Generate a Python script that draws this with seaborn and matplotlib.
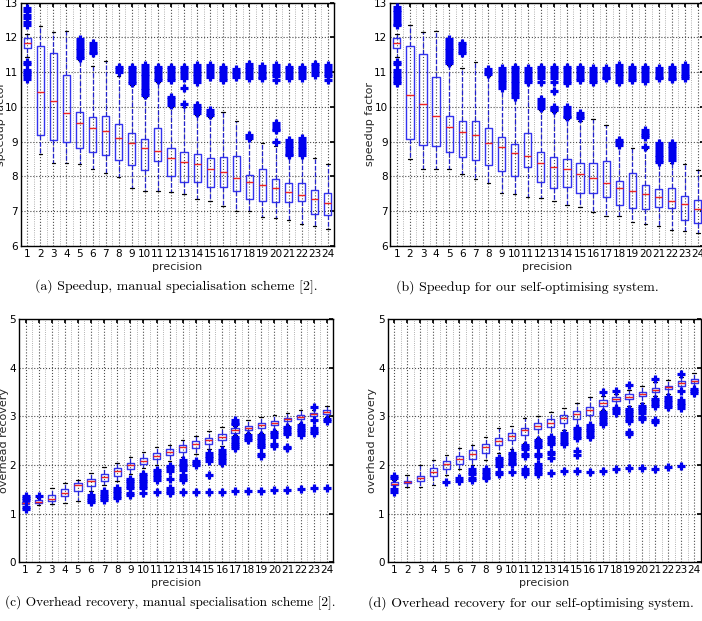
import numpy as np
import pandas as pd
import matplotlib
matplotlib.use("Agg")
import matplotlib.pyplot as plt
import seaborn as sns
from matplotlib.ticker import FixedLocator

# ---------------- data ----------------
precision = [str(i) for i in range(1, 25)]

# (a) speedup, manual specialisation scheme
a_lo = [11.45, 8.65, 8.38, 8.38, 8.36, 8.22, 8.09, 7.98, 7.68, 7.58, 7.57, 7.55, 7.49, 7.34, 7.29, 7.14, 7.02, 7.02, 6.84, 6.80, 6.75, 6.63, 6.58, 6.48]
a_q1 = [11.71, 9.18, 9.04, 8.99, 8.83, 8.70, 8.61, 8.48, 8.32, 8.18, 8.45, 8.01, 7.84, 7.85, 7.69, 7.69, 7.58, 7.34, 7.29, 7.26, 7.28, 7.30, 6.92, 6.88]
a_med = [11.85, 10.44, 10.18, 9.84, 9.55, 9.40, 9.32, 9.11, 8.97, 8.81, 8.73, 8.54, 8.41, 8.36, 8.22, 8.12, 7.97, 7.83, 7.76, 7.66, 7.56, 7.47, 7.36, 7.25]
a_q3 = [11.99, 11.76, 11.54, 10.91, 9.85, 9.72, 9.73, 9.50, 9.26, 9.07, 9.39, 8.83, 8.71, 8.64, 8.52, 8.55, 8.58, 8.04, 8.21, 7.92, 7.81, 7.82, 7.61, 7.53]
a_hi = [12.10, 12.32, 12.15, 12.19, 11.35, 11.18, 11.32, 10.90, 10.62, 10.28, 10.72, 10.00, 10.00, 9.78, 9.72, 9.85, 9.61, 9.05, 8.97, 8.88, 8.58, 8.58, 8.52, 8.35]
a_out = [
    [12.84, 12.75, 12.65, 12.55, 12.45, 12.36, 11.30, 11.25, 11.06, 11.00, 10.94, 10.88, 10.80],
    [], [], [],
    [11.95, 11.87, 11.79, 11.71, 11.63, 11.55, 11.47, 11.40],
    [11.83, 11.75, 11.67, 11.58, 11.54],
    [],
    [11.16, 11.08, 11.00],
    [11.16, 11.08, 11.00, 10.92, 10.84, 10.76, 10.68],
    [11.20, 11.12, 11.04, 10.96, 10.88, 10.80, 10.72, 10.64, 10.56, 10.48, 10.40, 10.34],
    [11.16, 11.08, 11.00, 10.92, 10.84, 10.78],
    [11.16, 11.08, 11.00, 10.92, 10.84, 10.78, 10.30, 10.22, 10.14, 10.06],
    [11.16, 11.08, 11.00, 10.92, 10.82, 10.54, 10.08],
    [11.20, 11.12, 11.04, 10.96, 10.88, 10.80, 10.73, 10.06, 9.98, 9.90, 9.84],
    [11.20, 11.12, 11.04, 10.96, 10.87, 9.91, 9.84, 9.77],
    [11.16, 11.08, 11.00, 10.92, 10.84, 10.78],
    [11.10, 11.02, 10.94, 10.87],
    [11.25, 11.16, 11.08, 11.00, 10.92, 10.82, 9.19, 9.10],
    [11.18, 11.10, 11.02, 10.94, 10.86, 10.82],
    [11.20, 11.12, 11.04, 10.96, 10.88, 10.78, 9.53, 9.45, 9.38, 9.34, 8.98],
    [11.16, 11.08, 11.00, 10.92, 10.82, 9.05, 8.97, 8.89, 8.81, 8.73, 8.66, 8.62],
    [11.16, 11.08, 11.00, 10.92, 10.82, 9.10, 9.02, 8.94, 8.86, 8.78, 8.70, 8.62],
    [11.25, 11.17, 11.09, 11.00, 10.92],
    [11.20, 11.12, 11.04, 10.96, 10.88, 10.78],
]

# (b) speedup, self-optimising system
b_lo = [11.45, 8.50, 8.22, 8.22, 8.22, 8.07, 7.93, 7.81, 7.53, 7.49, 7.40, 7.38, 7.30, 7.18, 7.11, 6.99, 6.85, 6.86, 6.68, 6.62, 6.57, 6.46, 6.43, 6.37]
b_q1 = [11.69, 9.07, 8.91, 8.88, 8.70, 8.56, 8.47, 8.34, 8.15, 8.01, 8.28, 7.83, 7.68, 7.69, 7.52, 7.52, 7.41, 7.18, 7.10, 7.07, 7.11, 7.09, 6.75, 6.67]
b_med = [11.84, 10.35, 10.08, 9.73, 9.42, 9.27, 9.19, 8.97, 8.85, 8.67, 8.58, 8.40, 8.28, 8.21, 8.06, 7.96, 7.81, 7.67, 7.59, 7.49, 7.40, 7.30, 7.20, 7.07]
b_q3 = [11.99, 11.75, 11.51, 10.85, 9.73, 9.61, 9.61, 9.39, 9.15, 8.93, 9.26, 8.70, 8.57, 8.49, 8.38, 8.39, 8.44, 7.87, 8.09, 7.76, 7.63, 7.66, 7.45, 7.31]
b_hi = [12.10, 12.35, 12.15, 12.20, 11.22, 11.12, 11.28, 10.90, 10.52, 10.25, 10.70, 9.90, 9.85, 9.65, 9.60, 9.66, 9.48, 8.88, 8.83, 8.80, 8.40, 8.40, 8.36, 8.19]
b_out = [
    [12.88, 12.80, 12.72, 12.64, 12.56, 12.48, 12.40, 12.36, 11.30, 11.25, 11.06, 10.98, 10.90, 10.82, 10.74, 10.68],
    [], [], [],
    [11.95, 11.87, 11.79, 11.71, 11.63, 11.55, 11.47, 11.39, 11.31, 11.26],
    [11.85, 11.77, 11.69, 11.61, 11.54],
    [],
    [11.08, 11.00, 10.95],
    [11.11, 11.03, 10.95, 10.87, 10.79, 10.71, 10.63, 10.56],
    [11.16, 11.08, 11.00, 10.92, 10.84, 10.76, 10.68, 10.60, 10.52, 10.44, 10.36, 10.30],
    [11.11, 11.03, 10.95, 10.87, 10.79, 10.73],
    [11.16, 11.08, 11.00, 10.92, 10.84, 10.73, 10.22, 10.14, 10.06, 9.96],
    [11.16, 11.08, 11.00, 10.92, 10.84, 10.73, 10.46, 10.00, 9.95, 9.91],
    [11.16, 11.08, 11.00, 10.92, 10.84, 10.76, 10.68, 9.99, 9.91, 9.83, 9.75, 9.72],
    [11.16, 11.08, 11.00, 10.92, 10.84, 10.78, 9.82, 9.74, 9.67],
    [11.11, 11.03, 10.95, 10.87, 10.79, 10.73],
    [11.11, 11.03, 10.95, 10.87, 10.82],
    [11.20, 11.12, 11.04, 10.96, 10.88, 10.80, 10.73, 9.05, 8.98, 8.91],
    [11.16, 11.08, 11.00, 10.92, 10.84, 10.78],
    [11.16, 11.08, 11.00, 10.92, 10.84, 10.76, 9.34, 9.26, 9.18, 9.15, 8.86],
    [11.11, 11.03, 10.95, 10.87, 10.82, 8.95, 8.87, 8.79, 8.71, 8.63, 8.55, 8.47, 8.43],
    [11.16, 11.08, 11.00, 10.92, 10.84, 10.80, 8.97, 8.89, 8.81, 8.73, 8.65, 8.57, 8.47],
    [11.20, 11.12, 11.04, 10.96, 10.88, 10.82],
    [],
]

# (c) overhead recovery, manual specialisation scheme
c_lo = [1.16, 1.17, 1.19, 1.21, 1.25, 1.47, 1.58, 1.68, 1.82, 1.93, 2.00, 2.08, 2.17, 2.22, 2.32, 2.40, 2.62, 2.66, 2.66, 2.72, 2.82, 2.86, 2.92, 2.98]
c_q1 = [1.19, 1.21, 1.26, 1.36, 1.46, 1.57, 1.67, 1.78, 1.91, 2.02, 2.12, 2.20, 2.27, 2.34, 2.44, 2.51, 2.66, 2.72, 2.76, 2.82, 2.90, 2.95, 3.00, 3.05]
c_med = [1.21, 1.245, 1.31, 1.43, 1.58, 1.67, 1.76, 1.88, 2.00, 2.09, 2.19, 2.27, 2.36, 2.43, 2.51, 2.58, 2.71, 2.77, 2.82, 2.86, 2.94, 2.99, 3.04, 3.09]
c_q3 = [1.245, 1.28, 1.38, 1.50, 1.62, 1.72, 1.81, 1.94, 2.04, 2.15, 2.24, 2.32, 2.42, 2.49, 2.56, 2.63, 2.75, 2.80, 2.86, 2.90, 2.97, 3.02, 3.07, 3.12]
c_hi = [1.28, 1.33, 1.52, 1.62, 1.70, 1.83, 1.95, 2.04, 2.17, 2.27, 2.37, 2.42, 2.52, 2.60, 2.69, 2.78, 2.81, 2.92, 2.99, 3.02, 3.07, 3.12, 3.12, 3.21]
c_out = [
    [1.36, 1.32, 1.29, 1.13, 1.10],
    [1.37],
    [], [], [],
    [1.38, 1.33, 1.28, 1.24],
    [1.46, 1.41, 1.36, 1.32, 1.28],
    [1.52, 1.47, 1.42, 1.37, 1.33],
    [1.72, 1.67, 1.62, 1.57, 1.52, 1.42, 1.38],
    [1.82, 1.77, 1.72, 1.67, 1.62, 1.57, 1.52, 1.42],
    [1.90, 1.85, 1.80, 1.76, 1.70, 1.45],
    [1.98, 1.93, 1.88, 1.72, 1.52, 1.47, 1.42],
    [2.10, 2.05, 2.00, 1.95, 1.89, 1.79, 1.74, 1.69, 1.44],
    [2.09, 2.04, 1.99, 1.45],
    [2.24, 2.19, 2.14, 2.09, 1.79, 1.45],
    [2.30, 2.25, 2.20, 2.15, 2.10, 2.05, 1.45],
    [2.92, 2.87, 2.84, 2.58, 2.53, 2.48, 2.43, 2.38, 2.34, 1.46],
    [2.61, 2.56, 2.51, 1.46],
    [2.61, 2.56, 2.51, 2.46, 2.41, 2.36, 2.22, 2.18, 1.47],
    [2.68, 2.63, 2.58, 2.43, 2.40, 1.48],
    [2.78, 2.73, 2.68, 2.63, 2.37, 2.34, 1.48],
    [2.82, 2.77, 2.72, 2.67, 2.62, 1.50],
    [3.19, 2.92, 2.75, 2.70, 2.65, 1.52],
    [2.95, 2.91, 1.53],
]

# (d) overhead recovery, self-optimising system
d_lo = [1.53, 1.55, 1.55, 1.59, 1.80, 1.92, 2.00, 2.10, 2.25, 2.32, 2.45, 2.55, 2.60, 2.72, 2.78, 2.85, 3.12, 3.20, 3.22, 3.28, 3.42, 3.45, 3.52, 3.58]
d_q1 = [1.58, 1.62, 1.67, 1.78, 1.92, 2.02, 2.13, 2.24, 2.42, 2.51, 2.62, 2.74, 2.78, 2.87, 2.95, 3.03, 3.22, 3.31, 3.35, 3.41, 3.50, 3.56, 3.63, 3.69]
d_med = [1.61, 1.66, 1.73, 1.86, 2.02, 2.13, 2.23, 2.37, 2.49, 2.60, 2.71, 2.81, 2.87, 2.97, 3.05, 3.14, 3.27, 3.35, 3.39, 3.46, 3.54, 3.61, 3.68, 3.73]
d_q3 = [1.65, 1.68, 1.78, 1.93, 2.08, 2.18, 2.30, 2.44, 2.56, 2.66, 2.77, 2.86, 2.95, 3.03, 3.10, 3.19, 3.33, 3.39, 3.45, 3.51, 3.58, 3.63, 3.72, 3.77]
d_hi = [1.70, 1.80, 2.00, 2.11, 2.21, 2.35, 2.42, 2.57, 2.77, 2.80, 2.97, 3.01, 3.09, 3.17, 3.27, 3.39, 3.42, 3.46, 3.55, 3.63, 3.70, 3.74, 3.80, 3.89]
d_out = [
    [1.78, 1.74, 1.50, 1.44],
    [], [], [],
    [1.66],
    [1.74, 1.67],
    [1.91, 1.86, 1.81, 1.74, 1.70],
    [1.91, 1.86, 1.81, 1.76, 1.74],
    [2.15, 2.10, 2.05, 1.98, 1.86, 1.81],
    [2.25, 2.20, 2.15, 2.10, 2.05, 2.01, 1.85],
    [2.42, 2.37, 2.32, 2.22, 2.18, 1.91, 1.86, 1.81],
    [2.52, 2.47, 2.42, 2.37, 2.22, 2.18, 2.01, 1.96, 1.91, 1.86, 1.81],
    [2.58, 2.53, 2.48, 2.43, 2.27, 2.22, 2.15, 1.84],
    [2.65, 2.60, 2.54, 2.48, 2.43, 1.88],
    [2.76, 2.71, 2.65, 2.60, 2.55, 2.29, 2.21, 1.88],
    [2.82, 2.77, 2.72, 2.67, 2.62, 2.57, 1.86],
    [3.50, 3.09, 3.04, 2.99, 2.94, 2.89, 2.84, 1.88],
    [3.53, 3.17, 3.12, 3.07, 1.91],
    [3.65, 3.16, 3.11, 3.06, 3.01, 2.95, 2.90, 2.68, 2.63, 1.93],
    [3.22, 3.17, 3.12, 3.07, 2.99, 2.95, 1.93],
    [3.76, 3.36, 3.31, 3.26, 3.22, 2.92, 2.88, 1.92],
    [3.39, 3.34, 3.29, 3.24, 3.19, 1.95],
    [3.87, 3.53, 3.33, 3.28, 3.23, 3.18, 1.97],
    [3.56, 3.52, 3.48],
]

captions = [
    "(a) Speedup, manual specialisation scheme [2].",
    "(b) Speedup for our self-optimising system.",
    "(c) Overhead recovery, manual specialisation scheme [2].",
    "(d) Overhead recovery for our self-optimising system.",
]

# ---------------- figure ----------------
sns.set_theme(style="white")
plt.rcParams["font.family"] = ["DejaVu Sans"]

W, H = 702, 621
fig = plt.figure(figsize=(W / 100, H / 100), dpi=100)


def make_axes(x0, x1, ytop, ybot):
    return fig.add_axes([x0 / W, 1 - ybot / H, (x1 - x0) / W, (ybot - ytop) / H])


def panel(ax, lo, q1, med, q3, hi, outl, ylim, ylabel, ylabel_off):
    rows = [(p, v) for i, p in enumerate(precision)
            for v in (lo[i], q1[i], med[i], q3[i], hi[i])]
    df = pd.DataFrame(rows, columns=["precision", "value"])
    orows = [(p, v) for p, vals in zip(precision, outl) for v in vals]
    odf = pd.DataFrame(orows, columns=["precision", "value"])

    ax.set_axisbelow(True)
    sns.boxplot(data=df, x="precision", y="value", order=precision,
                whis=(0, 100), width=0.55, fill=False, color="#3333ee",
                linewidth=1.0, showfliers=False,
                medianprops=dict(color="#ee2222", linewidth=1.0),
                whiskerprops=dict(color="#2222cc", linestyle="--", linewidth=0.9),
                capprops=dict(color="black", linewidth=0.9),
                ax=ax)
    sns.stripplot(data=odf, x="precision", y="value", order=precision,
                  jitter=False, marker="+", color="#0000ee", size=5.2,
                  linewidth=2.3, ax=ax)

    ax.set_xlim(-0.5, 23.5)
    ax.set_ylim(*ylim)
    ax.set_yticks(np.arange(ylim[0], ylim[1] + 1, 1))
    ax.xaxis.set_minor_locator(FixedLocator(np.arange(0.5, 23, 1)))
    ax.grid(True, which="major", linestyle=":", color="0.3", linewidth=0.8)
    ax.grid(True, which="minor", axis="x", linestyle=":", color="0.6", linewidth=0.6)
    ax.tick_params(axis="both", which="major", labelsize=7.5, direction="in",
                   length=3, pad=2, colors="black", top=True, right=True)
    ax.tick_params(axis="x", which="minor", length=0)
    for s in ax.spines.values():
        s.set_color("black")
        s.set_linewidth(1.0)
    ax.set_xlabel("precision", fontsize=8, labelpad=2)
    ax.set_ylabel(ylabel, fontsize=8)
    w = ax.get_position().width * W
    ax.yaxis.set_label_coords(-ylabel_off / w, 0.5)


ax_a = make_axes(20.7, 334.3, 2.7, 246)
ax_b = make_axes(390.3, 704.3, 2.7, 246)
ax_c = make_axes(19, 333.3, 319, 562.3)
ax_d = make_axes(387.7, 700.8, 319, 562.3)

panel(ax_a, a_lo, a_q1, a_med, a_q3, a_hi, a_out, (6, 13), "speedup factor", 15)
panel(ax_b, b_lo, b_q1, b_med, b_q3, b_hi, b_out, (6, 13), "speedup factor", 15)
panel(ax_c, c_lo, c_q1, c_med, c_q3, c_hi, c_out, (0, 5), "overhead recovery", 9.5)
panel(ax_d, d_lo, d_q1, d_med, d_q3, d_hi, d_out, (0, 5), "overhead recovery", 11)

cap_pos = [(176, 287), (527, 287), (170, 603), (531, 603)]
cap_size = [10, 10, 9.6, 10]
for (cx, cy), txt, fs in zip(cap_pos, captions, cap_size):
    fig.text(cx / W, 1 - cy / H, txt, ha="center", va="center",
             family="cmr10", fontsize=fs, color="black")

fig.savefig("out.png", dpi=100)
